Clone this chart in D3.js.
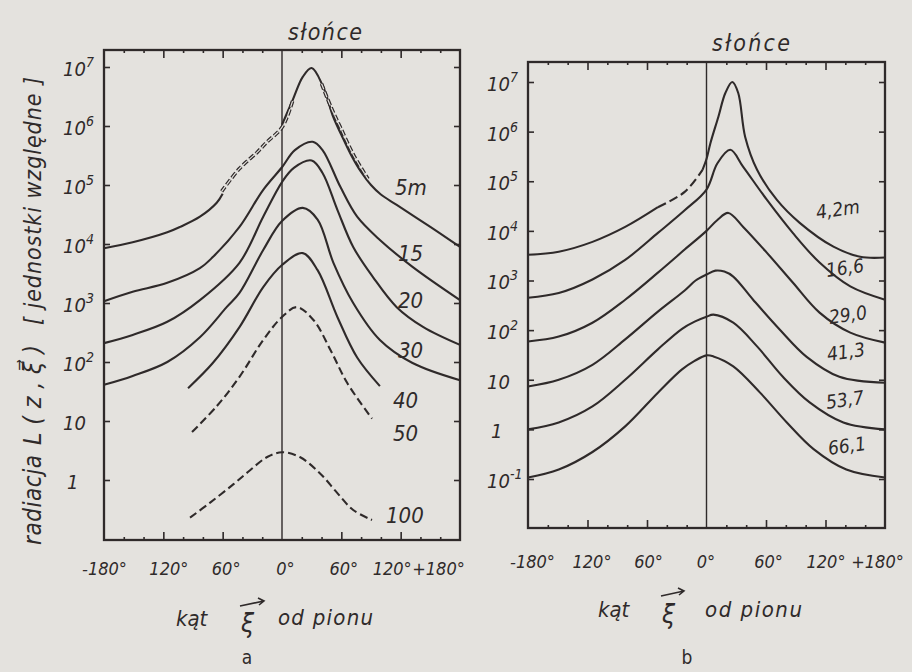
<!DOCTYPE html>
<html><head><meta charset="utf-8">
<script src="https://cdn.jsdelivr.net/npm/d3@7"></script>
<style>
html,body{margin:0;padding:0;background:#e4e2de;}
svg{display:block;}
text{font-family:"DejaVu Sans Condensed","Liberation Sans Narrow","DejaVu Sans",sans-serif;font-style:italic;fill:#2f2a2a;}
</style></head><body>
<svg id="c" width="912" height="672"></svg>
<script>
// ---------------- data ----------------
const angleLabelValues = [-180, -120, -60, 0, 60, 120, 180];
const angleLabels = ["-180°", "120°", "60°", "0°", "60°", "120°", "+180°"];
const angleMajorTicks = [-120, -60, 60, 120];
const angleMinorTicks = [-160, -140, -100, -80, -40, -20, 20, 40, 80, 100, 140, 160];
const decadesA = [1, 10, 1e2, 1e3, 1e4, 1e5, 1e6, 1e7];
const decadesB = [0.1, 1, 10, 1e2, 1e3, 1e4, 1e5, 1e6, 1e7];

// panel a : depth (m) -> [angle (deg), radiance]
const depthNamesA = ["5m", "15", "20", "30", "40", "50", "100"];
const a5 = [[-180,8500],[-151,10700],[-116,15800],[-103,19500],[-83,29000],[-66,50000],[-60,71000],[-32,320000],[0,1.05e6],[11,2.8e6],[21,6.8e6],[30,9.6e6],[41,4.9e6],[52,1.4e6],[60,7.1e5],[70,3.2e5],[80,1.66e5],[90,1.0e5],[100,6.9e4],[116,4.6e4],[150,1.95e4],[180,8900]];
const a5measuredLeft = [[-61,78000],[-43,1.9e5],[-25,3.6e5],[-15,5.4e5],[-5,7.6e5],[0,9.5e5],[5,1.4e6],[11,2.75e6]];
const a5measuredRight = [[40,5.2e6],[50,2.0e6],[59,9.5e5],[72,3.3e5],[87,1.26e5]];
const a15 = [[-180,1070],[-151,1550],[-116,2200],[-83,3900],[-70,6000],[-43,19500],[-19,83000],[0,2.0e5],[13,3.9e5],[31,5.4e5],[41,3.9e5],[59,9.3e4],[76,2.9e4],[99,1.17e4],[132,4100],[180,1120]];
const a20 = [[-180,209],[-151,288],[-116,480],[-83,1120],[-43,4800],[-19,2.9e4],[0,1.12e5],[12,1.95e5],[30,2.6e5],[41,1.6e5],[56,3.8e4],[72,8900],[92,2750],[116,850],[143,390],[180,195]];
const a30 = [[-180,41],[-151,58],[-116,100],[-83,263],[-56,850],[-43,1480],[-19,7900],[0,2.45e4],[21,4.1e4],[36,2.6e4],[52,4800],[72,1000],[99,236],[132,96],[180,49]];
const a40 = [[-95,36],[-70,96],[-43,390],[-19,1860],[0,4400],[21,7000],[36,3600],[56,580],[76,119],[99,39]];
const a50 = [[-91,6.5],[-66,17.8],[-43,56],[-19,236],[0,580],[15,850],[32,510],[49,160],[66,44],[91,11]];
const a100 = [[-93,0.23],[-73,0.41],[-49,0.85],[-32,1.48],[-15,2.45],[0,2.95],[18,2.45],[38,1.32],[56,0.60],[72,0.31],[91,0.21]];

// panel b : depth (m)
const depthNamesB = ["4,2m", "16,6", "29,0", "41,3", "53,7", "66,1"];
const b42 = [[-180,3300],[-149,3800],[-115,6000],[-82,12000],[-49,30000],[-22,61000],[-4,1.7e5],[0,2.8e5],[4,5.9e5],[12,2.0e6],[19,6e6],[26,1e7],[32,6e6],[39,7.8e5],[51,1.7e5],[71,4.2e4],[94,1.45e4],[128,4800],[155,3000],[180,2900]];
const b166 = [[-180,450],[-149,560],[-115,1050],[-82,2600],[-49,9100],[-22,26000],[0,68000],[11,2.3e5],[24,4.3e5],[37,1.95e5],[61,4.2e4],[87,9100],[114,2300],[145,760],[180,410]];
const b290 = [[-180,59],[-149,74],[-115,141],[-82,410],[-49,1440],[-22,4200],[0,10000],[11,16600],[22,23000],[37,12000],[61,3600],[87,910],[114,225],[145,89],[180,56]];
const b413 = [[-180,7.3],[-149,10],[-115,20],[-82,65],[-49,236],[-22,630],[-11,1000],[0,1320],[9,1580],[18,1510],[27,1200],[47,410],[74,102],[101,29],[134,11.5],[180,8.7]];
const b537 = [[-180,1.0],[-149,1.38],[-115,2.9],[-82,10],[-49,41],[-25,105],[-12,148],[0,186],[7,205],[27,141],[51,47],[77,11.5],[104,3.5],[138,1.38],[180,1.0]];
const b661 = [[-180,0.107],[-149,0.155],[-115,0.35],[-82,1.15],[-49,5.5],[-25,16],[-12,24],[0,31],[7,29.5],[27,18.6],[54,5.5],[81,1.38],[108,0.40],[141,0.155],[180,0.107]];

// ---------------- drawing ----------------
const INK = "#2f2a2a", BG = "#e4e2de";
const svg = d3.select("#c");
svg.append("rect").attr("width", 912).attr("height", 672).attr("fill", BG);

function makePanel(o) {
  const x = d3.scaleLinear().domain([-180, 180]).range([o.left, o.right]);
  const y = d3.scaleLog().domain([0.1, 1e7]).range([o.yLow, o.yHigh]);
  const g = svg.append("g");
  const clean = sel => { sel.select(".domain").remove(); sel.selectAll("line").attr("stroke", INK).attr("stroke-width", 1.6); };

  // ticks (inward)
  g.append("g").attr("transform", `translate(0,${o.bottom})`).call(d3.axisBottom(x).tickValues(angleMajorTicks).tickSize(-8).tickFormat("")).call(clean);
  g.append("g").attr("transform", `translate(0,${o.bottom})`).call(d3.axisBottom(x).tickValues(angleMinorTicks).tickSize(-3).tickFormat("")).call(clean);
  g.append("g").attr("transform", `translate(0,${o.top})`).call(d3.axisTop(x).tickValues(angleMajorTicks).tickSize(-8).tickFormat("")).call(clean);
  g.append("g").attr("transform", `translate(0,${o.top})`).call(d3.axisTop(x).tickValues(angleMinorTicks).tickSize(-3).tickFormat("")).call(clean);
  g.append("g").attr("transform", `translate(${o.left},0)`).call(d3.axisLeft(y).tickValues(o.decades).tickSize(-6).tickFormat("")).call(clean);
  g.append("g").attr("transform", `translate(${o.right},0)`).call(d3.axisRight(y).tickValues(o.decades).tickSize(-6).tickFormat("")).call(clean);

  // frame & zero line
  g.append("rect").attr("x", o.left).attr("y", o.top).attr("width", o.right - o.left).attr("height", o.bottom - o.top)
    .attr("fill", "none").attr("stroke", INK).attr("stroke-width", 2.3);
  g.append("line").attr("x1", x(0)).attr("x2", x(0)).attr("y1", o.top).attr("y2", o.bottom).attr("stroke", INK).attr("stroke-width", 1.4);

  // y labels
  const yl = g.append("g").attr("transform", `translate(${o.left},0)`)
    .call(d3.axisLeft(y).tickValues(o.decades).tickSize(0).tickPadding(0));
  yl.select(".domain").remove();
  yl.attr("font-size", 20);
  yl.selectAll("text").each(function (d) {
    const t = d3.select(this).attr("text-anchor", "start").attr("x", -41).attr("dy", "0.42em");
    t.text(null);
    const e = Math.round(Math.log10(d));
    if (e === 0) t.attr("x", -37).text("1");
    else if (e === 1) t.text("10");
    else {
      t.append("tspan").text("10");
      t.append("tspan").attr("dy", -9).attr("font-size", 14).text(e);
    }
  });

  // x labels
  const xl = g.append("g").attr("transform", `translate(0,${o.bottom})`)
    .call(d3.axisBottom(x).tickValues(angleLabelValues).tickSize(0).tickPadding(o.xPad)
      .tickFormat((d, i) => angleLabels[i]));
  xl.select(".domain").remove();
  xl.attr("font-size", 18);
  xl.selectAll("text").attr("dx", (d, i) => o.xLabelDx[i]);

  // curves
  const makeLine = def => {
    const l = d3.line().x(d => x(d[0])).y(d => y(d[1])).curve(d3.curveCatmullRom.alpha(0.5));
    if (def) l.defined(def);
    return l;
  };
  o.series.forEach(s => {
    const ln = makeLine(s.defined);
    if (s.hollow) {
      g.append("path").attr("d", ln(s.data)).attr("fill", "none").attr("stroke", INK)
        .attr("stroke-width", 3.6).attr("stroke-dasharray", "6,2.5");
      g.append("path").attr("d", ln(s.data)).attr("fill", "none").attr("stroke", BG)
        .attr("stroke-width", 1.2).attr("stroke-dasharray", "6,2.5");
    } else {
      g.append("path").attr("d", ln(s.data)).attr("fill", "none").attr("stroke", INK)
        .attr("stroke-width", 2.1).attr("stroke-dasharray", s.dash || null);
    }
  });

  // curve labels
  o.labels.forEach((lb, i) => {
    g.append("text").attr("x", lb[0]).attr("y", lb[1]).attr("font-size", o.labelSize)
      .attr("transform", o.labelRot ? `rotate(${o.labelRot},${lb[0]},${lb[1]})` : null)
      .text(o.names[i]);
  });
  return { x, y, g };
}

makePanel({
  left: 104, right: 460, top: 50, bottom: 540, yLow: 539, yHigh: 67,
  decades: decadesA, xPad: 22, xLabelDx: [0, 5, 3, 3, 2, -9, -22],
  names: depthNamesA, labelSize: 22, labelRot: 0,
  labels: [[395, 195], [398, 261], [398, 308], [398, 358], [393, 408], [393, 441], [386, 523]],
  series: [
    { data: a5, defined: d => !(d[0] > -60 && d[0] < 0) },
    { data: a5measuredLeft, hollow: true },
    { data: a5measuredRight, hollow: true },
    { data: a15 }, { data: a20 }, { data: a30 }, { data: a40 },
    { data: a50, dash: "8,4" }, { data: a100, dash: "8,4" }
  ]
});

makePanel({
  left: 528, right: 885, top: 62, bottom: 528, yLow: 479, yHigh: 82,
  decades: decadesB, xPad: 27, xLabelDx: [4, 4, 1, -1, 2, 0, -8],
  names: depthNamesB, labelSize: 19, labelRot: -8,
  labels: [[817, 219], [827, 277], [830, 324], [828, 361], [827, 409], [829, 455]],
  series: [
    { data: b42, defined: d => !(d[0] > -49 && d[0] < -4) },
    { data: b42, defined: d => d[0] >= -49 && d[0] <= -4, dash: "9,4" },
    { data: b166 }, { data: b290 }, { data: b413 }, { data: b537 }, { data: b661 }
  ]
});

// ---- titles & axis captions ----
function T(x, y, s, size, opts = {}) {
  const t = svg.append("text").attr("x", x).attr("y", y).attr("font-size", size).text(s);
  if (opts.anchor) t.attr("text-anchor", opts.anchor);
  if (opts.len) t.attr("textLength", opts.len);
  if (opts.rot) t.attr("transform", `rotate(${opts.rot},${x},${y})`);
  if (opts.upright) t.style("font-style", "normal");
  return t;
}
T(325, 40, "słońce", 23, { anchor: "middle", len: 74 });
T(751, 51, "słońce", 23, { anchor: "middle", len: 78 });

// vertical axis title (panel a)
T(41, 545, "radiacja", 24, { rot: -90, len: 90 });
T(41, 445, "L(z,ξ⃗)", 25, { rot: -90, len: 100 });
T(41, 325, "[ jednostki względne ]", 23, { rot: -90, len: 248 });

// x axis captions
function arrow(x1, y1, x2, y2) {
  svg.append("path").attr("d", `M${x1},${y1}L${x2},${y2}M${x2 - 6},${y2 - 3}L${x2},${y2}L${x2 - 5},${y2 + 4}`)
    .attr("fill", "none").attr("stroke", INK).attr("stroke-width", 1.6);
}
T(176, 626, "kąt", 22);
T(241, 632, "ξ", 26);
arrow(240, 606, 264, 601);
T(278, 625, "od pionu", 22, { len: 95 });
T(598, 617, "kąt", 22);
T(662, 623, "ξ", 26);
arrow(661, 596, 684, 591);
T(705, 617, "od pionu", 22, { len: 97 });

T(247, 664, "a", 19, { anchor: "middle", upright: true });
T(687, 664, "b", 19, { anchor: "middle", upright: true });
</script>
</body></html>
